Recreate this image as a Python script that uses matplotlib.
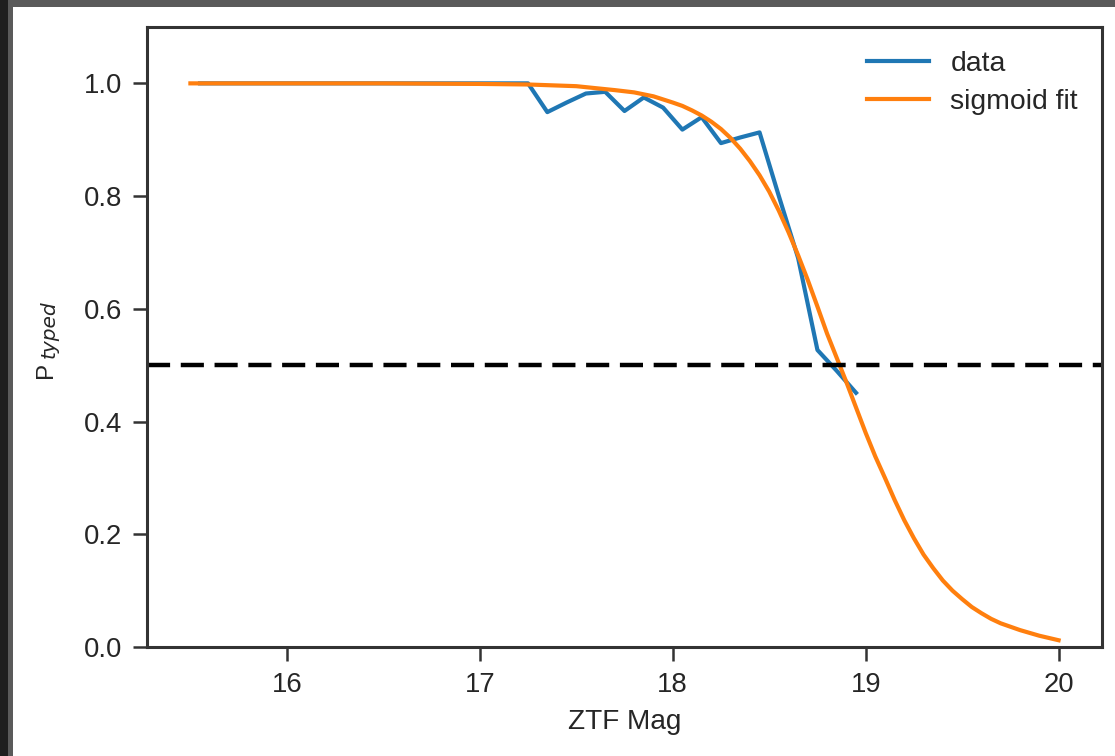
import numpy as np
import matplotlib
matplotlib.use("Agg")
import matplotlib.pyplot as plt
from matplotlib.patches import Rectangle

# binned typing fraction vs ZTF magnitude
data_mag = [15.55, 16.05, 16.55, 17.05, 17.25, 17.35, 17.45, 17.55, 17.65, 17.75,
            17.85, 17.95, 18.05, 18.15, 18.25, 18.35, 18.45, 18.55, 18.65,
            18.75, 18.85, 18.95]
data_frac = [1.0, 1.0, 1.0, 1.0, 1.0, 0.949, 0.966, 0.982, 0.985, 0.951,
             0.975, 0.957, 0.918, 0.940, 0.894, 0.904, 0.913, 0.800, 0.690,
             0.527, 0.490, 0.451]

# sigmoid fit sampled along the magnitude range
fit_mag = [15.5, 16.0, 16.5, 17.0, 17.25, 17.5, 17.7, 17.8, 17.9, 18.0, 18.05,
           18.1, 18.15, 18.2, 18.25, 18.3, 18.35, 18.4, 18.45, 18.5, 18.55,
           18.6, 18.65, 18.7, 18.75, 18.8, 18.85, 18.9, 18.95, 19.0, 19.05,
           19.1, 19.15, 19.2, 19.25, 19.3, 19.35, 19.4, 19.45, 19.5, 19.55,
           19.6, 19.65, 19.7, 19.75, 19.8, 19.85, 19.9, 19.95, 20.0]
fit_frac = [1.0, 1.0, 1.0, 0.999, 0.998, 0.995, 0.988, 0.984, 0.977, 0.966,
            0.960, 0.952, 0.943, 0.932, 0.919, 0.903, 0.884, 0.862, 0.837,
            0.808, 0.774, 0.736, 0.695, 0.651, 0.604, 0.556, 0.513, 0.470,
            0.425, 0.380, 0.338, 0.300, 0.261, 0.225, 0.193, 0.164, 0.140,
            0.118, 0.100, 0.085, 0.071, 0.060, 0.050, 0.042, 0.036, 0.030,
            0.025, 0.020, 0.016, 0.012]

threshold = 0.5

W, H = 1115, 756
text_color = "#262626"
plt.rcParams.update(
    {
        "font.family": ["Liberation Sans", "DejaVu Sans"],
        "text.color": text_color,
        "axes.labelcolor": text_color,
        "xtick.color": "#333333",
        "ytick.color": "#333333",
        "xtick.labelcolor": text_color,
        "ytick.labelcolor": text_color,
        "axes.edgecolor": "#333333",
    }
)

fig = plt.figure(figsize=(W / 100, H / 100), dpi=100)
fig.patch.set_facecolor("white")
# window frame around the figure
fig.patches.append(Rectangle((0, 1 - 7 / H), 1, 7 / H, transform=fig.transFigure,
                             facecolor="#5a5a5a", edgecolor="none", zorder=-1))
fig.patches.append(Rectangle((0, 0), 13 / W, 1, transform=fig.transFigure,
                             facecolor="#5a5a5a", edgecolor="none", zorder=-1))
fig.patches.append(Rectangle((0, 0), 8 / W, 1, transform=fig.transFigure,
                             facecolor="#1e1e1e", edgecolor="none", zorder=-1))

ax = fig.add_axes([147 / W, 1 - 647 / H, (1102 - 147) / W, (647 - 27) / H])

ax.plot(data_mag, data_frac, color="#1f77b4", lw=3, label="data")
ax.plot(fit_mag, fit_frac, color="#ff7f0e", lw=3, label="sigmoid fit")
ax.axhline(threshold, color="black", lw=3.2, ls=(0, (5.2, 2.4)))

ax.set_ylim(0, 1.1)
ax.set_xticks([16, 17, 18, 19, 20])
ax.set_yticks([0.0, 0.2, 0.4, 0.6, 0.8, 1.0])
ax.set_xlabel("ZTF Mag", fontsize=20.2, labelpad=8)
ax.tick_params(labelsize=19.8, length=10, width=1.8, pad=8)
for spine in ax.spines.values():
    spine.set_linewidth(2.2)

# y label: upright P with a full-size italic subscript
fig.text(52 / W, 1 - 378 / H, "P", fontsize=17.5, rotation=90,
         rotation_mode="anchor", ha="left", va="baseline", color=text_color)
fig.text(55 / W, 1 - 358 / H, "typed", fontsize=14.5, rotation=90,
         rotation_mode="anchor", ha="left", va="baseline", color=text_color,
         family="DejaVu Sans", style="oblique")

ax.legend(loc="upper right", frameon=False, fontsize=20.4, handlelength=2.2,
          handletextpad=0.75, borderaxespad=0.45, labelspacing=0.43)

fig.savefig("out.png", dpi=100)
